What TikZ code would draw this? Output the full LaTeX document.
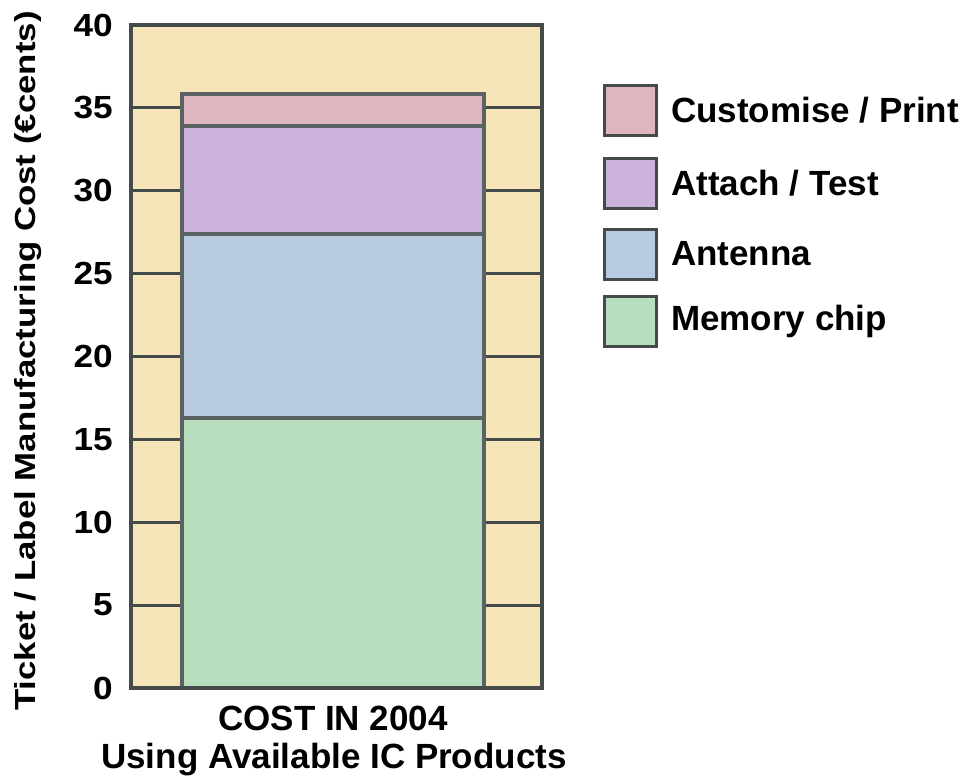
\documentclass[tikz,border=0pt]{standalone}
\usepackage{fontspec}
\setmainfont{Liberation Sans}[BoldFont={Liberation Sans Bold}]
\definecolor{wheatbg}{HTML}{F7E5BA}
\definecolor{framec}{HTML}{454B4B}
\definecolor{barline}{HTML}{5A6262}
\definecolor{pinkc}{HTML}{DFB6BF}
\definecolor{purplec}{HTML}{CBB3DC}
\definecolor{bluec}{HTML}{B7CADF}
\definecolor{greenc}{HTML}{B7DFBD}
\tikzset{
  gridln/.style={draw=framec, line width=3pt},
  segbox/.style={draw=barline, line width=3.5pt},
  legbox/.style={draw=framec, line width=3pt, minimum width=52pt, minimum height=50pt, inner sep=0pt},
  ticklbl/.style={anchor=east, inner sep=0pt, font=\bfseries\fontsize{32}{32}\selectfont},
  legtxt/.style={anchor=west, inner sep=0pt, font=\bfseries\fontsize{35}{35}\selectfont},
  bottxt/.style={anchor=base, inner sep=0pt, font=\bfseries\fontsize{35}{35}\selectfont}
}
\begin{document}
\begin{tikzpicture}[x=1pt,y=-1pt]
\useasboundingbox (0,0) rectangle (968,777);
% plot frame
\fill[wheatbg] (131,25) rectangle (542,688);
% grid lines
\foreach \k in {1,...,7} {
  \draw[gridln] (131,{688-\k*82.875}) -- (542,{688-\k*82.875});
}
% stacked bar
\draw[segbox, fill=greenc] (182,688) rectangle (484,418);
\draw[segbox, fill=bluec] (182,418) rectangle (484,234);
\draw[segbox, fill=purplec] (182,234) rectangle (484,126);
\draw[segbox, fill=pinkc] (182,126) rectangle (484,94);
% frame outline
\draw[draw=framec, line width=4pt] (131,25) rectangle (542,688);
% tick labels
\foreach \k in {0,...,8} {
  \node[ticklbl] (t\k) at (113,{688-\k*82.875}) {\scalebox{1.1}[1]{\number\numexpr\k*5\relax}};
}
% y axis label
\node[rotate=90, inner sep=0pt, font=\bfseries\fontsize{29}{29}\selectfont] (ylab) at (28,361) {\scalebox{1.2}[1]{Ticket / Label Manufacturing Cost (€cents)}};
% x labels
\node[bottxt] (xl1) at (333,730) {COST IN 2004};
\node[bottxt] (xl2) at (334,768) {Using Available IC Products};
% legend
\node[legbox, fill=pinkc] (lb1) at (630,110.5) {};
\node[legbox, fill=purplec] (lb2) at (630,183.5) {};
\node[legbox, fill=bluec] (lb3) at (630,254) {};
\node[legbox, fill=greenc] (lb4) at (630,321) {};
\node[legtxt] (lt1) at (671,110.5) {Customise / Print};
\node[legtxt] (lt2) at (671,183.5) {Attach / Test};
\node[legtxt] (lt3) at (671,254) {Antenna};
\node[legtxt] (lt4) at (671,321) {Memory chip};
\end{tikzpicture}
\end{document}
